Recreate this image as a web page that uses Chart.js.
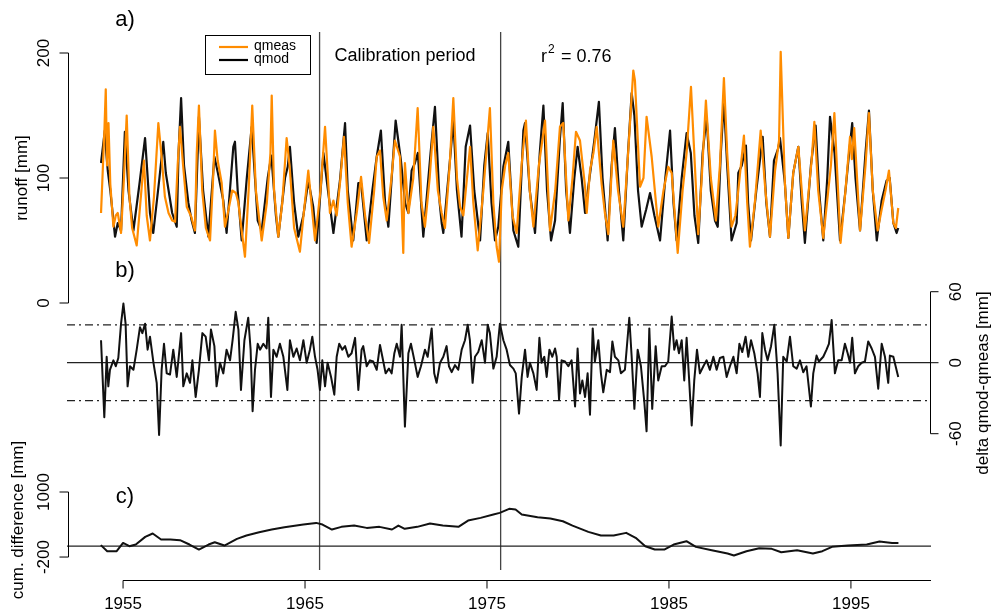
<!DOCTYPE html>
<html>
<head>
<meta charset="utf-8">
<script src="https://cdn.jsdelivr.net/npm/chart.js@4.4.1/dist/chart.umd.min.js"></script>
<style>
  body { margin: 0; background: #fff; }
  #wrap { position: relative; width: 993px; height: 616px; }
</style>
</head>
<body>
<div id="wrap"><canvas id="runoffChart"></canvas></div>
<script>
// monthly runoff as [year, mm]
const qmeas = [[1953.79,72],[1953.98,140],[1954.05,171],[1954.12,110],[1954.2,144],[1954.3,95],[1954.47,61],[1954.6,70],[1954.71,72],[1954.89,56],[1955.05,100],[1955.2,150],[1955.35,85],[1955.5,60],[1955.75,46],[1955.95,80],[1956.15,114],[1956.3,70],[1956.48,50],[1956.7,85],[1956.94,144],[1957.1,120],[1957.3,85],[1957.5,72],[1957.7,66],[1957.86,65],[1958.0,110],[1958.13,141],[1958.3,110],[1958.5,77],[1958.75,69],[1958.95,58],[1959.05,120],[1959.17,158],[1959.35,90],[1959.55,60],[1959.78,50],[1959.95,100],[1960.05,138],[1960.2,114],[1960.42,96],[1960.6,61],[1960.8,75],[1961.0,90],[1961.2,88],[1961.34,80],[1961.5,60],[1961.7,37],[1961.9,90],[1962.1,158],[1962.3,90],[1962.62,50],[1962.9,80],[1963.1,120],[1963.17,166],[1963.3,90],[1963.53,53],[1963.75,80],[1963.99,132],[1964.15,110],[1964.4,60],[1964.72,41],
  [1964.91,69],[1965.18,106],[1965.35,80],[1965.55,50],[1965.85,90],[1966.1,141],[1966.37,72],[1966.56,82],[1966.74,70],[1966.95,100],[1967.14,133],[1967.35,80],[1967.56,45],[1967.84,72],[1968.08,101],[1968.3,70],[1968.52,48],[1968.8,90],[1968.94,117],[1969.12,122],[1969.3,85],[1969.49,66],[1969.75,100],[1969.94,130],[1970.22,117],[1970.4,40],[1970.49,112],[1970.68,72],[1970.95,100],[1971.19,156],[1971.4,80],[1971.59,61],[1971.85,100],[1972.05,141],[1972.3,90],[1972.51,72],[1972.69,60],[1972.95,110],[1973.15,164],[1973.35,100],[1973.52,77],[1973.7,70],[1973.9,100],[1974.07,125],[1974.25,80],[1974.49,42],[1974.8,90],[1975.16,156],[1975.35,80],[1975.53,45],[1975.66,33],
  [1975.81,90],[1976.0,110],[1976.17,120],[1976.4,70],[1976.63,56],[1976.9,110],[1977.14,146],[1977.35,90],[1977.55,61],[1977.85,110],[1978.19,146],[1978.46,58],[1978.75,90],[1979.01,141],[1979.19,144],[1979.47,66],[1979.7,100],[1979.89,137],[1980.11,130],[1980.39,93],[1980.48,72],[1980.66,106],[1980.85,120],[1981.03,141],[1981.3,95],[1981.48,72],[1981.67,55],[1981.94,130],[1982.2,90],[1982.49,61],[1982.8,130],[1983.04,186],[1983.13,178],[1983.41,93],[1983.6,100],[1983.77,149],[1984.05,117],[1984.41,61],[1984.7,90],[1984.96,109],[1985.15,104],[1985.48,40],[1985.75,90],[1985.97,120],[1986.21,173],[1986.61,55],
  [1986.8,100],[1987.03,162],[1987.3,100],[1987.58,66],[1987.8,110],[1988.02,180],[1988.2,120],[1988.44,61],[1988.65,70],[1988.81,90],[1989.12,134],[1989.3,80],[1989.45,45],[1989.73,82],[1990.04,138],[1990.3,90],[1990.55,53],[1990.83,106],[1991.05,130],[1991.14,201],[1991.37,96],[1991.56,52],[1991.83,104],[1992.11,125],[1992.47,58],[1992.84,114],[1992.99,145],[1993.2,90],[1993.48,52],[1993.9,110],[1994.09,152],[1994.43,48],[1994.7,90],[1994.95,133],[1995.05,115],[1995.18,140],[1995.5,58],[1995.8,110],[1995.99,152],[1996.2,90],[1996.47,58],[1996.69,75],[1996.9,90],[1997.09,106],[1997.33,64],[1997.47,60],[1997.6,76]];

const qmod = [[1953.79,112],[1954.0,138],[1954.08,120],[1954.16,106],[1954.3,90],[1954.56,53],[1954.71,64],[1954.89,58],[1955.1,137],[1955.3,90],[1955.57,58],[1955.9,95],[1956.21,132],[1956.4,90],[1956.48,72],[1956.66,56],[1957.0,100],[1957.21,129],[1957.35,104],[1957.7,72],[1957.95,61],[1958.05,120],[1958.19,164],[1958.35,110],[1958.59,80],[1958.77,66],[1958.95,56],[1959.17,149],[1959.4,90],[1959.69,53],[1960.02,117],[1960.2,105],[1960.51,82],[1960.69,56],[1961.06,125],[1961.15,129],[1961.3,90],[1961.52,50],[1961.8,100],[1962.07,141],[1962.4,66],[1962.62,58],[1962.95,100],[1963.15,118],[1963.4,70],[1963.53,53],[1963.9,100],[1964.05,109],[1964.17,125],[1964.4,80],[1964.63,53],
  [1964.91,70],[1965.18,98],[1965.45,77],[1965.64,48],[1966.01,120],[1966.28,88],[1966.56,56],[1966.92,98],[1967.2,144],[1967.35,90],[1967.65,50],[1967.93,96],[1968.08,96],[1968.39,50],[1968.7,90],[1968.94,117],[1969.17,138],[1969.4,80],[1969.58,61],[1969.98,146],[1970.27,114],[1970.5,80],[1970.68,72],[1970.86,106],[1971.04,112],[1971.2,120],[1971.5,53],[1971.9,120],[1972.14,157],[1972.4,80],[1972.51,64],[1972.6,56],[1973.0,120],[1973.15,146],[1973.35,90],[1973.6,53],[1973.83,125],[1974.07,142],[1974.3,90],[1974.62,50],[1974.85,110],[1975.04,136],[1975.25,80],[1975.44,50],
  [1975.62,61],[1975.9,109],[1976.17,129],[1976.45,58],[1976.72,45],[1977.0,138],[1977.09,144],[1977.35,90],[1977.64,56],[1977.9,120],[1978.1,158],[1978.3,90],[1978.52,50],[1978.74,66],[1979.0,130],[1979.16,160],[1979.35,90],[1979.56,56],[1979.8,100],[1979.98,125],[1980.2,100],[1980.39,72],[1980.57,93],[1980.9,130],[1981.15,161],[1981.35,100],[1981.48,77],[1981.63,50],[1981.85,110],[1982.03,140],[1982.25,90],[1982.49,50],[1982.75,120],[1982.95,168],[1983.1,150],[1983.3,90],[1983.5,61],[1983.75,75],[1983.96,88],[1984.2,70],[1984.51,50],[1984.8,100],[1985.06,138],[1985.25,80],[1985.42,50],[1985.7,100],[1985.97,136],[1986.2,120],[1986.4,70],[1986.61,48],
  [1986.85,120],[1987.07,149],[1987.3,90],[1987.53,66],[1987.68,61],[1987.85,120],[1988.02,162],[1988.2,110],[1988.44,50],[1988.72,64],[1988.81,104],[1989.0,110],[1989.23,126],[1989.35,80],[1989.51,50],[1989.8,90],[1990.15,133],[1990.35,80],[1990.55,53],[1990.77,114],[1991.01,124],[1991.1,132],[1991.37,96],[1991.56,52],[1991.83,104],[1992.11,125],[1992.3,80],[1992.47,48],[1992.8,110],[1993.06,142],[1993.25,90],[1993.48,50],[1993.7,100],[1993.85,149],[1994.1,120],[1994.4,50],[1994.7,90],[1994.9,120],[1995.07,144],[1995.25,100],[1995.5,58],[1995.8,120],[1995.99,154],[1996.2,90],[1996.42,50],[1996.69,82],[1996.96,98],[1997.13,100],[1997.33,64],[1997.51,56],[1997.6,60]];

// qmod - qmeas [mm]
const delta = [[1953.79,19],[1953.97,-46],[1954.10,5],[1954.19,-20],[1954.28,-6],[1954.47,2],[1954.60,-3],[1954.74,4],[1954.89,33],[1955.02,50],[1955.14,33],[1955.25,-20],[1955.38,-3],[1955.57,-6],[1955.75,11],[1955.93,30],[1956.06,25],[1956.21,33],[1956.35,11],[1956.48,22],[1956.67,0],[1956.85,-17],[1956.98,-61],[1957.12,-6],[1957.25,16],[1957.40,-9],[1957.58,-10],[1957.76,11],[1957.95,-12],[1958.19,25],[1958.31,-20],[1958.50,-9],[1958.68,-17],[1958.81,2],[1958.99,-29],[1959.17,-6],[1959.36,25],[1959.54,22],[1959.72,2],[1959.83,28],[1960.02,14],[1960.14,-20],[1960.33,0],[1960.51,-9],[1960.69,11],[1960.88,2],[1961.02,19],[1961.19,43],[1961.34,28],[1961.48,-23],[1961.67,19],[1961.88,38],[1962.01,11],[1962.12,-41],[1962.25,-6],[1962.40,16],[1962.53,11],[1962.71,16],[1962.89,12],[1962.98,38],[1963.13,-29],[1963.26,11],[1963.44,5],[1963.62,16],[1963.81,5],[1964.03,-23],[1964.17,19],[1964.36,5],[1964.54,12],[1964.72,2],[1964.91,19],[1965.09,0],[1965.27,11],[1965.40,22],[1965.55,5],[1965.69,-6],[1965.82,-23],[1965.95,2],[1966.10,-20],[1966.24,0],[1966.43,-12],[1966.61,-27],[1966.74,5],[1966.88,16],[1967.05,11],[1967.20,14],[1967.38,5],[1967.56,8],[1967.75,21],[1967.93,-23],[1968.11,11],[1968.20,14],[1968.39,-3],[1968.57,2],[1968.75,1],[1968.94,-6],[1969.12,15],[1969.25,5],[1969.43,-9],[1969.61,-5],[1969.76,-9],[1969.91,8],[1970.04,16],[1970.22,5],[1970.31,32],[1970.49,-54],[1970.68,8],[1970.82,16],[1971.01,2],[1971.19,-12],[1971.37,-3],[1971.59,11],[1971.74,5],[1971.96,29],[1972.10,-9],[1972.23,-17],[1972.42,0],[1972.60,5],[1972.78,14],[1972.91,-3],[1973.06,-8],[1973.24,-2],[1973.42,-6],[1973.61,11],[1973.79,19],[1973.94,32],[1974.06,19],[1974.21,-17],[1974.34,5],[1974.52,9],[1974.71,19],[1974.89,0],[1975.04,32],[1975.16,25],[1975.35,-5],[1975.53,5],[1975.71,33],[1975.90,19],
  [1976.08,11],[1976.26,-2],[1976.45,-5],[1976.58,-9],[1976.76,-43],[1976.91,-12],[1977.09,11],[1977.23,-12],[1977.36,0],[1977.55,-9],[1977.73,-23],[1977.88,21],[1978.00,0],[1978.15,5],[1978.28,-12],[1978.43,11],[1978.59,5],[1978.74,12],[1978.83,5],[1978.96,-31],[1979.10,2],[1979.29,1],[1979.47,-3],[1979.65,2],[1979.84,-37],[1979.98,12],[1980.11,-26],[1980.24,-15],[1980.39,-29],[1980.53,-9],[1980.66,-44],[1980.81,29],[1980.93,1],[1981.12,19],[1981.26,-9],[1981.39,-25],[1981.58,-6],[1981.76,-8],[1981.89,18],[1982.03,5],[1982.22,2],[1982.36,-9],[1982.58,-6],[1982.82,38],[1982.95,5],[1983.10,-39],[1983.28,11],[1983.46,-3],[1983.65,-34],[1983.77,-58],[1983.92,29],[1984.08,-39],[1984.27,14],[1984.41,-15],[1984.60,-3],[1984.78,-3],[1984.96,1],[1985.15,39],[1985.29,11],[1985.42,19],[1985.55,8],[1985.70,19],[1985.84,-15],[1985.97,21],[1986.10,-12],[1986.25,-53],[1986.39,-15],[1986.54,11],[1986.70,-9],[1986.89,-3],[1987.07,2],[1987.25,-6],[1987.44,5],[1987.62,-6],[1987.80,4],[1987.99,5],[1988.17,-12],[1988.35,-3],[1988.54,5],[1988.72,-9],[1988.87,16],[1989.03,9],[1989.21,22],[1989.36,5],[1989.51,19],[1989.69,8],[1989.87,-9],[1990.00,-29],[1990.13,25],[1990.28,11],[1990.42,2],[1990.61,14],[1990.79,32],[1990.97,-9],[1991.14,-70],[1991.28,5],[1991.47,1],[1991.65,22],[1991.83,-3],[1992.02,-5],[1992.20,2],[1992.38,-8],[1992.56,-3],[1992.80,-37],[1992.93,-9],[1993.11,6],[1993.24,1],[1993.48,5],[1993.66,11],[1993.79,16],[1993.94,36],[1994.12,-9],[1994.30,2],[1994.49,2],[1994.67,16],[1994.82,8],[1994.95,0],[1995.07,21],[1995.22,-9],[1995.40,-3],[1995.59,0],[1995.77,1],[1995.95,18],[1996.14,12],[1996.32,5],[1996.50,-22],[1996.69,16],[1996.87,5],[1997.05,-17],[1997.14,6],[1997.33,5],[1997.60,-12]];

// cumulative difference [mm]
const cumDiff = [[1953.78,20],[1954.13,-92],[1954.65,-92],[1955.0,60],[1955.35,0],[1955.7,31],[1956.22,172],[1956.63,234],[1957.09,123],[1957.6,123],[1958.13,111],[1958.65,31],[1959.17,-62],[1959.7,31],[1960.04,74],[1960.57,12],[1961.26,135],[1961.78,197],[1962.48,258],[1963.17,308],[1963.87,350],[1964.91,400],[1965.61,430],[1965.96,400],[1966.48,308],[1967.0,357],[1967.7,381],[1968.39,338],[1969.09,357],[1969.78,308],[1970.13,381],[1970.48,320],[1971.17,357],[1971.87,418],[1972.57,381],[1973.43,357],[1973.96,473],[1974.65,523],[1975.35,584],[1975.7,615],[1976.22,689],[1976.57,676],[1976.91,584],[1977.78,535],[1978.48,510],[1979.17,461],[1979.7,381],[1980.57,264],[1981.26,197],[1981.96,197],[1982.65,246],[1983.17,154],[1983.7,0],[1984.22,-62],[1984.74,-62],[1985.26,31],[1985.96,92],[1986.48,-12],[1987.35,-74],[1988.22,-135],[1988.57,-172],[1989.26,-92],[1989.96,-37],[1990.65,-49],[1991.17,-111],[1992.04,-74],[1992.91,-135],[1993.43,-92],[1993.96,-12],[1994.83,12],[1995.87,31],[1996.57,86],[1997.26,61],[1997.61,61]];

const yearTicks = [1955, 1965, 1975, 1985, 1995];
const runoffTicks = [0, 100, 200];
const deltaTicks = [-60, 0, 60];
const cumTicks = [-200, 1000];
const calPeriod = [1965.8, 1975.75];
const deltaBand = 32;
const r2 = 0.76;

const FONT = '"Liberation Sans", Arial, Helvetica, sans-serif';
const ORANGE = '#ff8c00';

function toXY(series) {
    return series.map(function (p) { return { x: p[0], y: p[1] }; });
}

function seg(ctx, x1, y1, x2, y2) {
    ctx.beginPath();
    ctx.moveTo(x1, y1);
    ctx.lineTo(x2, y2);
    ctx.stroke();
}

function vText(ctx, txt, x, y) {
    ctx.save();
    ctx.translate(x, y);
    ctx.rotate(-Math.PI / 2);
    ctx.fillText(txt, 0, 0);
    ctx.restore();
}

// R style axes, reference lines and labels, positioned through the chart scales
const rStyle = {
    id: 'rStyle',
    beforeDatasetsDraw: function (chart) {
        const ctx = chart.ctx, a = chart.chartArea, s = chart.scales;
        ctx.save();
        ctx.strokeStyle = '#444';
        ctx.lineWidth = 1.3;
        calPeriod.forEach(function (yr) {
            const px = s.x.getPixelForValue(yr);
            seg(ctx, px, a.top, px, a.bottom);
        });
        ctx.strokeStyle = '#222';
        ctx.lineWidth = 1.2;
        let y0 = s.yDelta.getPixelForValue(0);
        seg(ctx, a.left, y0, a.right, y0);
        y0 = s.yCum.getPixelForValue(0);
        seg(ctx, a.left, y0, a.right, y0);
        ctx.setLineDash([8, 4, 2, 4]);
        [deltaBand, -deltaBand].forEach(function (v) {
            const py = s.yDelta.getPixelForValue(v);
            seg(ctx, a.left, py, a.right, py);
        });
        ctx.restore();
    },
    afterDraw: function (chart) {
        const ctx = chart.ctx, a = chart.chartArea, s = chart.scales;
        ctx.save();
        ctx.strokeStyle = '#000';
        ctx.fillStyle = '#000';
        ctx.lineWidth = 1;
        ctx.font = '17px ' + FONT;
        ctx.textAlign = 'center';
        ctx.textBaseline = 'middle';

        // left axes (runoff, cumulative)
        [[s.yRunoff, runoffTicks], [s.yCum, cumTicks]].forEach(function (pair) {
            const sc = pair[0], ticks = pair[1];
            const ys = ticks.map(function (t) { return sc.getPixelForValue(t); });
            const ax = a.left + 1.5;
            seg(ctx, ax, Math.min.apply(null, ys), ax, Math.max.apply(null, ys));
            ticks.forEach(function (t, i) {
                seg(ctx, ax, ys[i], ax - 9, ys[i]);
                vText(ctx, String(t), ax - 24, ys[i]);
            });
        });

        // right axis (delta)
        const rys = deltaTicks.map(function (t) { return s.yDelta.getPixelForValue(t); });
        const rx = a.right - 0.5;
        seg(ctx, rx, Math.min.apply(null, rys), rx, Math.max.apply(null, rys));
        deltaTicks.forEach(function (t, i) {
            seg(ctx, rx, rys[i], rx + 8, rys[i]);
            vText(ctx, String(t), rx + 26, rys[i]);
        });

        // bottom axis
        const by = a.bottom + 10.5;
        seg(ctx, s.x.getPixelForValue(yearTicks[0]), by, a.right, by);
        yearTicks.forEach(function (t) {
            const px = s.x.getPixelForValue(t);
            seg(ctx, px, by, px, by + 8);
            ctx.fillText(String(t), px, by + 24);
        });

        // axis titles
        vText(ctx, 'runoff [mm]', 22, s.yRunoff.getPixelForValue(100));
        vText(ctx, 'cum. difference [mm]', 18, 520);
        vText(ctx, 'delta qmod-qmeas [mm]', 983, 383);

        // panel letters
        ctx.font = '22px ' + FONT;
        ctx.fillText('a)', 125, 20);
        ctx.fillText('b)', 125, 271);
        ctx.fillText('c)', 125, 497);

        // calibration text and r2
        ctx.font = '18px ' + FONT;
        ctx.fillText('Calibration period', 405, 56);
        ctx.textAlign = 'left';
        ctx.fillText('r', 541, 57);
        ctx.font = '12px ' + FONT;
        ctx.fillText('2', 548, 50);
        ctx.font = '18px ' + FONT;
        ctx.fillText('= ' + r2.toFixed(2), 561, 57);

        // legend
        ctx.lineWidth = 1;
        ctx.strokeRect(205.5, 35.5, 105, 39);
        ctx.lineWidth = 2.2;
        ctx.strokeStyle = ORANGE;
        seg(ctx, 219, 47, 248, 47);
        ctx.strokeStyle = '#000';
        seg(ctx, 219, 60, 248, 60);
        ctx.font = '14px ' + FONT;
        ctx.fillText('qmeas', 254, 46);
        ctx.fillText('qmod', 254, 59);
        ctx.restore();
    }
};

const ctx1 = document.getElementById('runoffChart');
const runoffChart = new Chart(ctx1, {
    type: 'line',
    data: {
        datasets: [{
            label: 'qmeas',
            data: toXY(qmeas),
            yAxisID: 'yRunoff',
            borderColor: ORANGE,
            borderWidth: 2.2,
            order: 1
        }, {
            label: 'qmod',
            data: toXY(qmod),
            yAxisID: 'yRunoff',
            borderColor: '#111',
            borderWidth: 2.2,
            order: 2
        }, {
            label: 'delta',
            data: toXY(delta),
            yAxisID: 'yDelta',
            borderColor: '#111',
            borderWidth: 2,
            order: 3
        }, {
            label: 'cum. difference',
            data: toXY(cumDiff),
            yAxisID: 'yCum',
            borderColor: '#111',
            borderWidth: 2,
            order: 4
        }]
    },
    options: {
        responsive: true,
        maintainAspectRatio: false,
        animation: false,
        layout: { padding: { left: 67, right: 62, top: 32, bottom: 46 } },
        elements: {
            point: { radius: 0 },
            line: { tension: 0, fill: false, borderJoinStyle: 'round' }
        },
        plugins: {
            legend: { display: false },
            tooltip: { enabled: false }
        },
        scales: {
            x: { type: 'linear', min: 1951.92, max: 1999.4, display: false },
            yRunoff: { type: 'linear', min: -213.6, max: 216.8, display: false },
            yDelta: { type: 'linear', min: -175.2, max: 279.5, display: false },
            yCum: { type: 'linear', min: -439, max: 9487, display: false }
        }
    },
    plugins: [rStyle]
});
</script>
</body>
</html>
